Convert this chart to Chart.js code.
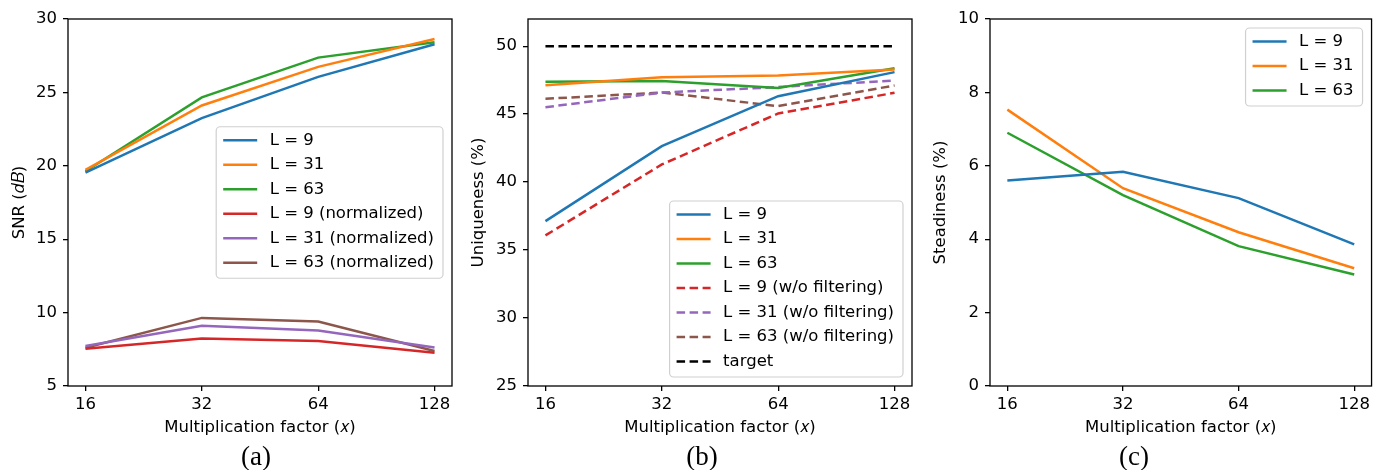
<!DOCTYPE html>
<html lang="en">
<head>
<meta charset="UTF-8">
<title>SNR, uniqueness and steadiness vs multiplication factor</title>
<script src="https://cdn.jsdelivr.net/npm/chart.js@4.4.1/dist/chart.umd.min.js"></script>
<style>
  body { margin: 0; background: #fff; }
  #wrap { position: relative; width: 1374px; height: 470px; overflow: hidden; }
  canvas { position: absolute; top: 0; }
  .sub { position: absolute; top: 443px; font-family: "Liberation Serif", serif; font-size: 27px; line-height: 27px; transform: translateX(-50%); color: #000; }
</style>
</head>
<body>
<div id="wrap">
  <canvas id="snr" width="460" height="470" style="left:0"></canvas>
  <canvas id="uniq" width="460" height="470" style="left:460px"></canvas>
  <canvas id="steady" width="454" height="470" style="left:920px"></canvas>
  <div class="sub" style="left:256px">(a)</div>
  <div class="sub" style="left:702px">(b)</div>
  <div class="sub" style="left:1134px">(c)</div>
</div>
<script>
// x values (multiplication factor) and tick labels
const factors = [16, 32, 64, 128];
const snrTicks = [5, 10, 15, 20, 25, 30];
const uniqTicks = [25, 30, 35, 40, 45, 50];
const steadyTicks = [0, 2, 4, 6, 8, 10];

// (a) SNR (dB)
const snrL9 = [19.54, 23.25, 26.06, 28.28];
const snrL31 = [19.72, 24.11, 26.74, 28.64];
const snrL63 = [19.63, 24.66, 27.37, 28.41];
const snrL9norm = [7.54, 8.24, 8.06, 7.26];
const snrL31norm = [7.72, 9.10, 8.78, 7.63];
const snrL63norm = [7.60, 9.64, 9.39, 7.38];

// (b) Uniqueness (%)
const uniqL9 = [37.13, 42.65, 46.32, 48.09];
const uniqL31 = [47.13, 47.72, 47.84, 48.28];
const uniqL63 = [47.38, 47.43, 46.92, 48.38];
const uniqL9raw = [36.08, 41.30, 45.05, 46.57];
const uniqL31raw = [45.51, 46.59, 46.99, 47.48];
const uniqL63raw = [46.13, 46.59, 45.59, 47.11];
const uniqTarget = [50, 50, 50, 50];

// (c) Steadiness (%)
const steadyL9 = [5.60, 5.84, 5.12, 3.86];
const steadyL31 = [7.53, 5.39, 4.19, 3.21];
const steadyL63 = [6.90, 5.20, 3.81, 3.04];

const FS = 16.5;
const DASH = [8.5, 4.5];
Chart.defaults.font.family = '"DejaVu Sans", sans-serif';
Chart.defaults.color = '#000';

function line(label, values, color, dashed) {
  return {
    label: label,
    data: factors.map((f, i) => ({ x: f, y: values[i] })),
    borderColor: color,
    backgroundColor: color,
    borderWidth: 2.5,
    borderDash: dashed ? DASH : [],
    pointRadius: 0,
    tension: 0,
    fill: false
  };
}

// frame around the plot area (all four spines)
const frame = {
  id: 'frame',
  afterDatasetsDraw(chart) {
    const { ctx, chartArea: a } = chart;
    ctx.save();
    ctx.strokeStyle = '#000';
    ctx.lineWidth = 1.3;
    ctx.strokeRect(a.left, a.top, a.right - a.left, a.bottom - a.top);
    ctx.restore();
  }
};

// matplotlib-like legend box inside the plot area
const boxLegend = {
  id: 'boxLegend',
  afterDraw(chart, args, opts) {
    const { ctx, chartArea: a } = chart;
    const sets = chart.data.datasets;
    const rowH = 24.5, padL = 7, handle = 34, gap = 12.5, padR = 9, margin = 9;
    ctx.save();
    ctx.font = FS + 'px "DejaVu Sans"';
    const textW = Math.max(...sets.map(d => ctx.measureText(d.label).width));
    const w = padL + handle + gap + textW + padR;
    const h = 29 + (sets.length - 1) * rowH;
    const x = a.right - margin - w;
    let y;
    if (opts.loc === 'upper') y = a.top + margin;
    else if (opts.loc === 'lower') y = a.bottom - margin - h;
    else y = (a.top + a.bottom) / 2 - h / 2;

    ctx.beginPath();
    ctx.roundRect(x, y, w, h, 4);
    ctx.fillStyle = 'rgba(255,255,255,0.8)';
    ctx.fill();
    ctx.strokeStyle = '#d0d0d0';
    ctx.lineWidth = 1.2;
    ctx.stroke();

    sets.forEach((d, i) => {
      const cy = y + 13.5 + i * rowH;
      ctx.beginPath();
      ctx.setLineDash(d.borderDash || []);
      ctx.strokeStyle = d.borderColor;
      ctx.lineWidth = 2.5;
      ctx.moveTo(x + padL, cy);
      ctx.lineTo(x + padL + handle, cy);
      ctx.stroke();
      ctx.setLineDash([]);
      ctx.fillStyle = '#000';
      ctx.textBaseline = 'middle';
      ctx.textAlign = 'left';
      ctx.fillText(d.label, x + padL + handle + gap, cy);
    });
    ctx.restore();
  }
};

function xScale() {
  return {
    type: 'logarithmic',
    min: 16 / Math.pow(2, 0.15),
    max: 128 * Math.pow(2, 0.15),
    afterBuildTicks: s => { s.ticks = factors.map(v => ({ value: v })); },
    ticks: { callback: v => String(v), font: { size: FS }, padding: 4, maxRotation: 0, autoSkip: false },
    grid: { drawOnChartArea: false, tickLength: 5, color: '#000', lineWidth: 1.3 },
    border: { display: false },
    title: { display: true, text: 'Multiplication factor (\u{1D465})', font: { size: FS }, padding: { top: 0, bottom: 32 } },
    afterFit: s => { s.height = 84; }
  };
}

function yScale(tickVals, min, max, title, width, titlePad) {
  return {
    type: 'linear',
    min: min,
    max: max,
    afterBuildTicks: s => { s.ticks = tickVals.map(v => ({ value: v })); },
    ticks: { font: { size: FS }, padding: 6 },
    grid: { drawOnChartArea: false, tickLength: 5, color: '#000', lineWidth: 1.3 },
    border: { display: false },
    title: { display: true, text: title, font: { size: FS }, padding: { top: titlePad, bottom: 0 } },
    afterFit: s => { s.width = width; }
  };
}

function panel(id, datasets, y, legendLoc, padRight) {
  new Chart(document.getElementById(id), {
    type: 'line',
    data: { datasets: datasets },
    options: {
      responsive: false,
      animation: false,
      devicePixelRatio: 1,
      layout: { padding: { top: 19, right: padRight, left: 0, bottom: 0 } },
      scales: { x: xScale(), y: y },
      plugins: {
        legend: { display: false },
        tooltip: { enabled: false },
        boxLegend: { loc: legendLoc }
      }
    },
    plugins: [frame, boxLegend]
  });
}

panel('snr', [
  line('L = 9', snrL9, '#1f77b4'),
  line('L = 31', snrL31, '#ff7f0e'),
  line('L = 63', snrL63, '#2ca02c'),
  line('L = 9 (normalized)', snrL9norm, '#d62728'),
  line('L = 31 (normalized)', snrL31norm, '#9467bd'),
  line('L = 63 (normalized)', snrL63norm, '#8c564b')
], yScale(snrTicks, 5, 30, 'SNR (\u{1D451}\u{1D435})', 68, 10), 'center', 8);

panel('uniq', [
  line('L = 9', uniqL9, '#1f77b4'),
  line('L = 31', uniqL31, '#ff7f0e'),
  line('L = 63', uniqL63, '#2ca02c'),
  line('L = 9 (w/o filtering)', uniqL9raw, '#d62728', true),
  line('L = 31 (w/o filtering)', uniqL31raw, '#9467bd', true),
  line('L = 63 (w/o filtering)', uniqL63raw, '#8c564b', true),
  line('target', uniqTarget, '#000000', true)
], yScale(uniqTicks, 25, 52, 'Uniqueness (%)', 68, 9), 'lower', 8);

panel('steady', [
  line('L = 9', steadyL9, '#1f77b4'),
  line('L = 31', steadyL31, '#ff7f0e'),
  line('L = 63', steadyL63, '#2ca02c')
], yScale(steadyTicks, 0, 10, 'Steadiness (%)', 70, 11), 'upper', 1);
</script>
</body>
</html>
